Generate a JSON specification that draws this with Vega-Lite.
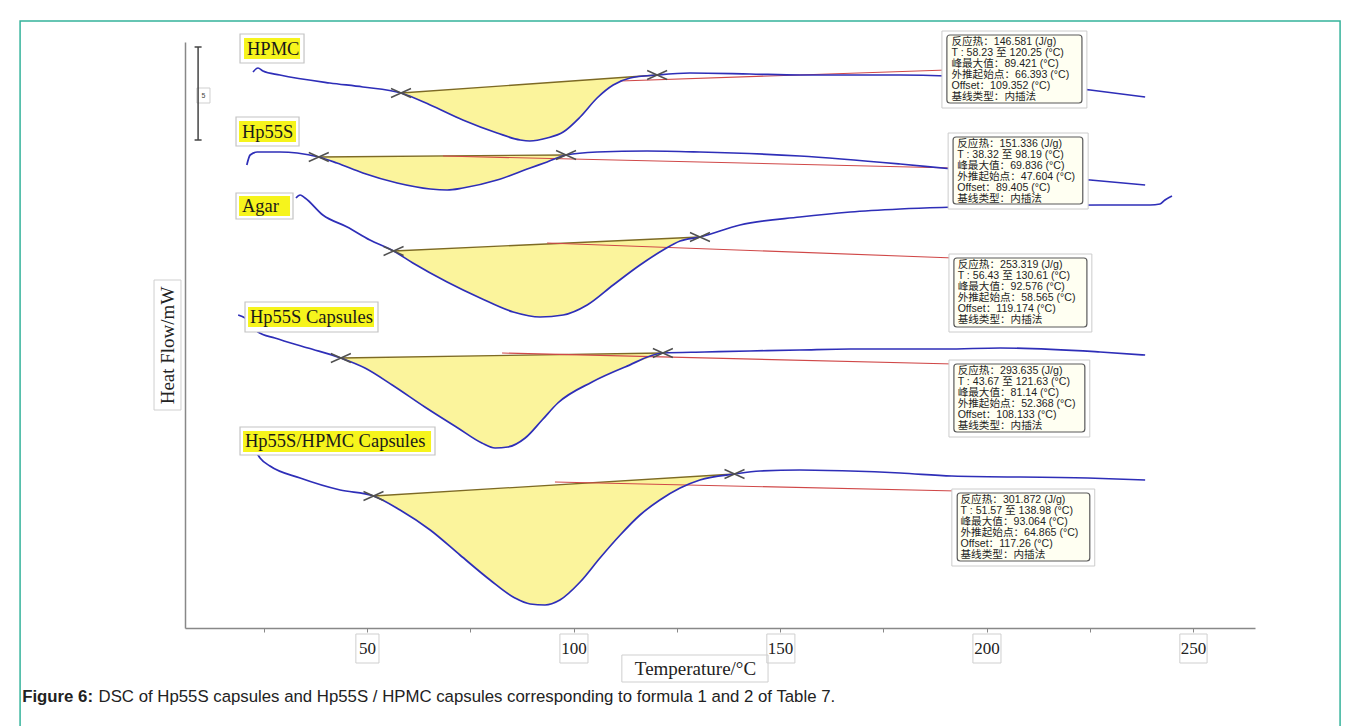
{
  "$schema": "https://vega.github.io/schema/vega-lite/v6.json",
  "width": 1070,
  "height": 586,
  "autosize": {"type": "none"},
  "padding": {"left": 185, "top": 42, "right": 105, "bottom": 98},
  "background": "white",
  "config": {"view": {"stroke": null}},
  "datasets": {
    "curves": [
      {"s": "HPMC", "t": 22.4, "hf": 556}, {"s": "HPMC", "t": 23.6, "hf": 560}, {"s": "HPMC", "t": 24.8, "hf": 557}, {"s": "HPMC", "t": 28.9, "hf": 553}, {"s": "HPMC", "t": 41.0, "hf": 545}, {"s": "HPMC", "t": 49.0, "hf": 541}, {"s": "HPMC", "t": 58.23, "hf": 535}, {"s": "HPMC", "t": 65.3, "hf": 523}, {"s": "HPMC", "t": 73.2, "hf": 508}, {"s": "HPMC", "t": 81.5, "hf": 495}, {"s": "HPMC", "t": 87.1, "hf": 488}, {"s": "HPMC", "t": 89.4, "hf": 487}, {"s": "HPMC", "t": 93.6, "hf": 490}, {"s": "HPMC", "t": 97.5, "hf": 496}, {"s": "HPMC", "t": 101.6, "hf": 511}, {"s": "HPMC", "t": 105.7, "hf": 530}, {"s": "HPMC", "t": 109.6, "hf": 543}, {"s": "HPMC", "t": 113.7, "hf": 550}, {"s": "HPMC", "t": 120.25, "hf": 553}, {"s": "HPMC", "t": 128.2, "hf": 555}, {"s": "HPMC", "t": 142.7, "hf": 554}, {"s": "HPMC", "t": 154.8, "hf": 553}, {"s": "HPMC", "t": 179.1, "hf": 553}, {"s": "HPMC", "t": 190.4, "hf": 552}, {"s": "HPMC", "t": 225.1, "hf": 538}, {"s": "HPMC", "t": 238.4, "hf": 531},
      {"s": "Hp55S", "t": 20.9, "hf": 463}, {"s": "Hp55S", "t": 21.7, "hf": 473}, {"s": "Hp55S", "t": 23.4, "hf": 476}, {"s": "Hp55S", "t": 28.9, "hf": 476}, {"s": "Hp55S", "t": 33.1, "hf": 475}, {"s": "Hp55S", "t": 38.32, "hf": 471}, {"s": "Hp55S", "t": 42.7, "hf": 465}, {"s": "Hp55S", "t": 49.0, "hf": 455}, {"s": "Hp55S", "t": 57.3, "hf": 445}, {"s": "Hp55S", "t": 65.3, "hf": 439}, {"s": "Hp55S", "t": 69.4, "hf": 438}, {"s": "Hp55S", "t": 73.2, "hf": 440}, {"s": "Hp55S", "t": 81.5, "hf": 448}, {"s": "Hp55S", "t": 89.5, "hf": 460}, {"s": "Hp55S", "t": 93.6, "hf": 466}, {"s": "Hp55S", "t": 98.19, "hf": 473}, {"s": "Hp55S", "t": 105.7, "hf": 476}, {"s": "Hp55S", "t": 117.8, "hf": 477}, {"s": "Hp55S", "t": 130.6, "hf": 476}, {"s": "Hp55S", "t": 154.8, "hf": 472}, {"s": "Hp55S", "t": 179.1, "hf": 464}, {"s": "Hp55S", "t": 191.9, "hf": 459}, {"s": "Hp55S", "t": 225.1, "hf": 448}, {"s": "Hp55S", "t": 238.4, "hf": 443},
      {"s": "Agar", "t": 32.8, "hf": 430}, {"s": "Agar", "t": 33.8, "hf": 433}, {"s": "Agar", "t": 35.0, "hf": 430}, {"s": "Agar", "t": 39.3, "hf": 413}, {"s": "Agar", "t": 45.2, "hf": 401}, {"s": "Agar", "t": 50.7, "hf": 388}, {"s": "Agar", "t": 56.43, "hf": 377}, {"s": "Agar", "t": 61.1, "hf": 365}, {"s": "Agar", "t": 69.4, "hf": 346}, {"s": "Agar", "t": 77.4, "hf": 330}, {"s": "Agar", "t": 85.4, "hf": 316}, {"s": "Agar", "t": 91.9, "hf": 311}, {"s": "Agar", "t": 97.5, "hf": 313}, {"s": "Agar", "t": 103.3, "hf": 323}, {"s": "Agar", "t": 109.6, "hf": 343}, {"s": "Agar", "t": 116.1, "hf": 363}, {"s": "Agar", "t": 121.7, "hf": 378}, {"s": "Agar", "t": 125.8, "hf": 387}, {"s": "Agar", "t": 130.61, "hf": 391}, {"s": "Agar", "t": 140.3, "hf": 403}, {"s": "Agar", "t": 154.8, "hf": 411}, {"s": "Agar", "t": 167.0, "hf": 416}, {"s": "Agar", "t": 179.1, "hf": 419}, {"s": "Agar", "t": 203.3, "hf": 422}, {"s": "Agar", "t": 227.5, "hf": 423}, {"s": "Agar", "t": 239.6, "hf": 423}, {"s": "Agar", "t": 242.0, "hf": 424}, {"s": "Agar", "t": 243.2, "hf": 428}, {"s": "Agar", "t": 244.9, "hf": 432},
      {"s": "Cap", "t": 18.8, "hf": 313}, {"s": "Cap", "t": 20.5, "hf": 310}, {"s": "Cap", "t": 23.6, "hf": 296}, {"s": "Cap", "t": 27.7, "hf": 290}, {"s": "Cap", "t": 35.7, "hf": 280}, {"s": "Cap", "t": 43.67, "hf": 270}, {"s": "Cap", "t": 49.5, "hf": 260}, {"s": "Cap", "t": 56.1, "hf": 243}, {"s": "Cap", "t": 64.0, "hf": 221}, {"s": "Cap", "t": 72.0, "hf": 200}, {"s": "Cap", "t": 77.8, "hf": 185}, {"s": "Cap", "t": 81.0, "hf": 180}, {"s": "Cap", "t": 84.1, "hf": 181}, {"s": "Cap", "t": 88.3, "hf": 190}, {"s": "Cap", "t": 92.4, "hf": 208}, {"s": "Cap", "t": 96.2, "hf": 225}, {"s": "Cap", "t": 104.5, "hf": 246}, {"s": "Cap", "t": 112.5, "hf": 261}, {"s": "Cap", "t": 121.63, "hf": 275}, {"s": "Cap", "t": 131.8, "hf": 276}, {"s": "Cap", "t": 142.7, "hf": 277}, {"s": "Cap", "t": 154.8, "hf": 278}, {"s": "Cap", "t": 167.0, "hf": 279}, {"s": "Cap", "t": 179.1, "hf": 279}, {"s": "Cap", "t": 190.0, "hf": 279}, {"s": "Cap", "t": 203.3, "hf": 280}, {"s": "Cap", "t": 227.5, "hf": 276}, {"s": "Cap", "t": 238.4, "hf": 273},
      {"s": "MixCap", "t": 22.9, "hf": 178}, {"s": "MixCap", "t": 24.1, "hf": 170}, {"s": "MixCap", "t": 26.5, "hf": 162}, {"s": "MixCap", "t": 33.8, "hf": 150}, {"s": "MixCap", "t": 43.5, "hf": 138}, {"s": "MixCap", "t": 51.57, "hf": 132}, {"s": "MixCap", "t": 58.0, "hf": 118}, {"s": "MixCap", "t": 65.3, "hf": 98}, {"s": "MixCap", "t": 72.5, "hf": 73}, {"s": "MixCap", "t": 79.8, "hf": 48}, {"s": "MixCap", "t": 85.8, "hf": 30}, {"s": "MixCap", "t": 89.5, "hf": 24}, {"s": "MixCap", "t": 93.1, "hf": 23}, {"s": "MixCap", "t": 96.7, "hf": 28}, {"s": "MixCap", "t": 101.6, "hf": 46}, {"s": "MixCap", "t": 106.4, "hf": 70}, {"s": "MixCap", "t": 111.3, "hf": 93}, {"s": "MixCap", "t": 116.1, "hf": 113}, {"s": "MixCap", "t": 120.9, "hf": 128}, {"s": "MixCap", "t": 125.8, "hf": 140}, {"s": "MixCap", "t": 130.6, "hf": 148}, {"s": "MixCap", "t": 138.98, "hf": 154}, {"s": "MixCap", "t": 145.2, "hf": 157}, {"s": "MixCap", "t": 154.8, "hf": 158}, {"s": "MixCap", "t": 167.0, "hf": 157}, {"s": "MixCap", "t": 179.1, "hf": 155}, {"s": "MixCap", "t": 191.6, "hf": 152}, {"s": "MixCap", "t": 224.5, "hf": 150}, {"s": "MixCap", "t": 238.4, "hf": 148}
    ],
    "fills": [
      {"s": "HPMC", "t": 58.23, "hf": 535, "base": 535}, {"s": "HPMC", "t": 65.3, "hf": 523, "base": 537.1}, {"s": "HPMC", "t": 73.2, "hf": 508, "base": 539.3}, {"s": "HPMC", "t": 81.5, "hf": 495, "base": 541.8}, {"s": "HPMC", "t": 87.1, "hf": 488, "base": 543.4}, {"s": "HPMC", "t": 89.4, "hf": 487, "base": 544.0}, {"s": "HPMC", "t": 93.6, "hf": 490, "base": 545.3}, {"s": "HPMC", "t": 97.5, "hf": 496, "base": 546.4}, {"s": "HPMC", "t": 101.6, "hf": 511, "base": 547.6}, {"s": "HPMC", "t": 105.7, "hf": 530, "base": 548.8}, {"s": "HPMC", "t": 109.6, "hf": 543, "base": 549.9}, {"s": "HPMC", "t": 113.7, "hf": 550, "base": 551.1}, {"s": "HPMC", "t": 120.25, "hf": 553, "base": 553},
      {"s": "Hp55S", "t": 38.32, "hf": 471, "base": 471}, {"s": "Hp55S", "t": 42.7, "hf": 465, "base": 471.1}, {"s": "Hp55S", "t": 49.0, "hf": 455, "base": 471.4}, {"s": "Hp55S", "t": 57.3, "hf": 445, "base": 471.6}, {"s": "Hp55S", "t": 65.3, "hf": 439, "base": 471.9}, {"s": "Hp55S", "t": 69.4, "hf": 438, "base": 472.0}, {"s": "Hp55S", "t": 73.2, "hf": 440, "base": 472.2}, {"s": "Hp55S", "t": 81.5, "hf": 448, "base": 472.4}, {"s": "Hp55S", "t": 89.5, "hf": 460, "base": 472.7}, {"s": "Hp55S", "t": 93.6, "hf": 466, "base": 472.8}, {"s": "Hp55S", "t": 98.19, "hf": 473, "base": 473},
      {"s": "Agar", "t": 56.43, "hf": 377, "base": 377}, {"s": "Agar", "t": 61.1, "hf": 365, "base": 377.9}, {"s": "Agar", "t": 69.4, "hf": 346, "base": 379.4}, {"s": "Agar", "t": 77.4, "hf": 330, "base": 381.0}, {"s": "Agar", "t": 85.4, "hf": 316, "base": 382.5}, {"s": "Agar", "t": 91.9, "hf": 311, "base": 383.7}, {"s": "Agar", "t": 97.5, "hf": 313, "base": 384.7}, {"s": "Agar", "t": 103.3, "hf": 323, "base": 385.8}, {"s": "Agar", "t": 109.6, "hf": 343, "base": 387.0}, {"s": "Agar", "t": 116.1, "hf": 363, "base": 388.3}, {"s": "Agar", "t": 121.7, "hf": 378, "base": 389.3}, {"s": "Agar", "t": 125.8, "hf": 387, "base": 390.1}, {"s": "Agar", "t": 130.61, "hf": 391, "base": 391},
      {"s": "Cap", "t": 43.67, "hf": 270, "base": 270}, {"s": "Cap", "t": 49.5, "hf": 260, "base": 270.4}, {"s": "Cap", "t": 56.1, "hf": 243, "base": 270.8}, {"s": "Cap", "t": 64.0, "hf": 221, "base": 271.3}, {"s": "Cap", "t": 72.0, "hf": 200, "base": 271.8}, {"s": "Cap", "t": 77.8, "hf": 185, "base": 272.2}, {"s": "Cap", "t": 81.0, "hf": 180, "base": 272.4}, {"s": "Cap", "t": 84.1, "hf": 181, "base": 272.6}, {"s": "Cap", "t": 88.3, "hf": 190, "base": 272.9}, {"s": "Cap", "t": 92.4, "hf": 208, "base": 273.1}, {"s": "Cap", "t": 96.2, "hf": 225, "base": 273.4}, {"s": "Cap", "t": 104.5, "hf": 246, "base": 273.9}, {"s": "Cap", "t": 112.5, "hf": 261, "base": 274.4}, {"s": "Cap", "t": 121.63, "hf": 275, "base": 275},
      {"s": "MixCap", "t": 51.57, "hf": 132, "base": 132}, {"s": "MixCap", "t": 58.0, "hf": 118, "base": 133.6}, {"s": "MixCap", "t": 65.3, "hf": 98, "base": 135.5}, {"s": "MixCap", "t": 72.5, "hf": 73, "base": 137.3}, {"s": "MixCap", "t": 79.8, "hf": 48, "base": 139.1}, {"s": "MixCap", "t": 85.8, "hf": 30, "base": 140.6}, {"s": "MixCap", "t": 89.5, "hf": 24, "base": 141.5}, {"s": "MixCap", "t": 93.1, "hf": 23, "base": 142.5}, {"s": "MixCap", "t": 96.7, "hf": 28, "base": 143.4}, {"s": "MixCap", "t": 101.6, "hf": 46, "base": 144.6}, {"s": "MixCap", "t": 106.4, "hf": 70, "base": 145.8}, {"s": "MixCap", "t": 111.3, "hf": 93, "base": 147.0}, {"s": "MixCap", "t": 116.1, "hf": 113, "base": 148.2}, {"s": "MixCap", "t": 120.9, "hf": 128, "base": 149.5}, {"s": "MixCap", "t": 125.8, "hf": 140, "base": 150.7}, {"s": "MixCap", "t": 130.6, "hf": 148, "base": 151.9}, {"s": "MixCap", "t": 138.98, "hf": 154, "base": 154}
    ],
    "limits": [
      {"s": "HPMC", "t": 58.23, "hf": 535}, {"s": "HPMC", "t": 120.25, "hf": 553},
      {"s": "Hp55S", "t": 38.32, "hf": 471}, {"s": "Hp55S", "t": 98.19, "hf": 473},
      {"s": "Agar", "t": 56.43, "hf": 377}, {"s": "Agar", "t": 130.61, "hf": 391},
      {"s": "Cap", "t": 43.67, "hf": 270}, {"s": "Cap", "t": 121.63, "hf": 275},
      {"s": "MixCap", "t": 51.57, "hf": 132}, {"s": "MixCap", "t": 138.98, "hf": 154}
    ],
    "reds": [
      {"s": "HPMC", "t": 111.3, "hf": 547}, {"s": "HPMC", "t": 190.4, "hf": 558},
      {"s": "Hp55S", "t": 68.4, "hf": 472}, {"s": "Hp55S", "t": 191.9, "hf": 460},
      {"s": "Agar", "t": 93.6, "hf": 385}, {"s": "Agar", "t": 192.1, "hf": 370},
      {"s": "Cap", "t": 82.7, "hf": 275}, {"s": "Cap", "t": 192.1, "hf": 264},
      {"s": "MixCap", "t": 95.5, "hf": 146}, {"s": "MixCap", "t": 192.9, "hf": 137}
    ],
    "labelFrames": [
      {"t": 19.25, "t2": 34.75, "hf": 594, "hf2": 565},
      {"t": 18.28, "t2": 33.54, "hf": 511, "hf2": 482},
      {"t": 18.28, "t2": 32.08, "hf": 435, "hf2": 409},
      {"t": 20.46, "t2": 52.66, "hf": 326, "hf2": 296},
      {"t": 19.25, "t2": 66.46, "hf": 201, "hf2": 173}
    ],
    "highlights": [
      {"t": 20.22, "t2": 33.78, "hf": 590, "hf2": 569},
      {"t": 19.01, "t2": 32.81, "hf": 507, "hf2": 486},
      {"t": 19.01, "t2": 31.36, "hf": 432, "hf2": 412},
      {"t": 21.19, "t2": 51.69, "hf": 321, "hf2": 301},
      {"t": 19.98, "t2": 65.5, "hf": 197, "hf2": 176}
    ],
    "labels": [
      {"name": "HPMC", "t": 20.94, "hf": 579.5},
      {"name": "Hp55S", "t": 19.73, "hf": 496.5},
      {"name": "Agar", "t": 19.73, "hf": 422},
      {"name": "Hp55S Capsules", "t": 21.67, "hf": 311},
      {"name": "Hp55S/HPMC Capsules", "t": 20.46, "hf": 187}
    ],
    "infoOuter": [
      {"t": 189.2, "t2": 224.3, "hf": 597, "hf2": 520},
      {"t": 190.7, "t2": 224.6, "hf": 495, "hf2": 419},
      {"t": 190.9, "t2": 225.5, "hf": 374, "hf2": 296},
      {"t": 190.9, "t2": 225.0, "hf": 268, "hf2": 191},
      {"t": 191.6, "t2": 226.2, "hf": 139, "hf2": 62}
    ],
    "infoInner": [
      {"t": 190.4, "t2": 223.1, "hf": 593, "hf2": 525},
      {"t": 191.9, "t2": 223.3, "hf": 491, "hf2": 424},
      {"t": 192.1, "t2": 224.3, "hf": 370, "hf2": 301},
      {"t": 192.1, "t2": 223.8, "hf": 264, "hf2": 196},
      {"t": 192.9, "t2": 225.0, "hf": 135, "hf2": 67}
    ],
    "infoText": [
      {"t": 191.5, "hf": 591, "txt": "反应热：146.581 (J/g)\nT : 58.23 至 120.25 (°C)\n峰最大值：89.421 (°C)\n外推起始点：66.393 (°C)\nOffset：109.352 (°C)\n基线类型：内插法"},
      {"t": 192.9, "hf": 489, "txt": "反应热：151.336 (J/g)\nT : 38.32 至 98.19 (°C)\n峰最大值：69.836 (°C)\n外推起始点：47.604 (°C)\nOffset：89.405 (°C)\n基线类型：内插法"},
      {"t": 193.0, "hf": 368, "txt": "反应热：253.319 (J/g)\nT : 56.43 至 130.61 (°C)\n峰最大值：92.576 (°C)\n外推起始点：58.565 (°C)\nOffset：119.174 (°C)\n基线类型：内插法"},
      {"t": 193.0, "hf": 262, "txt": "反应热：293.635 (J/g)\nT : 43.67 至 121.63 (°C)\n峰最大值：81.14 (°C)\n外推起始点：52.368 (°C)\nOffset：108.133 (°C)\n基线类型：内插法"},
      {"t": 193.7, "hf": 133, "txt": "反应热：301.872 (J/g)\nT : 51.57 至 138.98 (°C)\n峰最大值：93.064 (°C)\n外推起始点：64.865 (°C)\nOffset：117.26 (°C)\n基线类型：内插法"}
    ],
    "axisFrames": [
      {"t": 47.3, "t2": 52.9, "hf": -6, "hf2": -35},
      {"t": 96.7, "t2": 103.5, "hf": -6, "hf2": -35},
      {"t": 146.8, "t2": 153.6, "hf": -6, "hf2": -35},
      {"t": 196.7, "t2": 203.5, "hf": -6, "hf2": -35},
      {"t": 246.8, "t2": 253.4, "hf": -6, "hf2": -35},
      {"t": 111.7, "t2": 147.1, "hf": -27, "hf2": -54},
      {"t": -1.57, "t2": 4.96, "hf": 348, "hf2": 218},
      {"t": 8.8, "t2": 11.98, "hf": 540, "hf2": 525}
    ],
    "scaleBar": [
      {"t": 9.1, "hf": 581}, {"t": 9.1, "hf": 488}
    ],
    "border": [
      {"t": -34.0, "t2": 285.6, "hf": 607, "hf2": -112}
    ]
  },
  "encoding": {
    "x": {
      "field": "t", "type": "quantitative",
      "scale": {"domain": [5.93, 265], "nice": false, "zero": false},
      "axis": {
        "title": "Temperature/°C",
        "values": [25, 50, 75, 100, 125, 150, 175, 200, 225, 250],
        "labelExpr": "datum.value % 50 === 0 ? datum.label : ''",
        "grid": false,
        "labelFont": "Liberation Serif", "labelFontSize": 17, "labelColor": "#222",
        "labelPadding": 8,
        "tickColor": "#888", "tickSize": 4,
        "domainColor": "#888", "domainWidth": 1.5,
        "titleFont": "Liberation Serif", "titleFontSize": 19, "titleFontWeight": "normal", "titleColor": "#222",
        "titleX": 510, "titleY": 40, "titleBaseline": "middle", "titleAlign": "center"
      }
    },
    "y": {
      "field": "hf", "type": "quantitative",
      "scale": {"domain": [0, 586], "nice": false, "zero": false},
      "axis": {
        "title": "Heat Flow/mW",
        "labels": false, "ticks": false, "grid": false,
        "domainColor": "#888", "domainWidth": 1.5,
        "titleFont": "Liberation Serif", "titleFontSize": 19, "titleFontWeight": "normal", "titleColor": "#222",
        "titleAngle": -90, "titleX": -18, "titleY": 303, "titleBaseline": "middle", "titleAlign": "center"
      }
    }
  },
  "layer": [
    {"data": {"name": "border"}, "mark": {"type": "rect", "fill": null, "stroke": "#35b39b", "strokeWidth": 1.5}, "encoding": {"x2": {"field": "t2"}, "y2": {"field": "hf2"}}},
    {"data": {"name": "axisFrames"}, "mark": {"type": "rect", "fill": null, "stroke": "#cfcfcf", "strokeWidth": 1}, "encoding": {"x2": {"field": "t2"}, "y2": {"field": "hf2"}}},
    {"data": {"name": "fills"}, "mark": {"type": "area", "color": "#fbf49c", "interpolate": "monotone"}, "encoding": {"y2": {"field": "base"}, "detail": {"field": "s"}}},
    {"data": {"name": "limits"}, "mark": {"type": "line", "color": "#7d6a25", "strokeWidth": 1.3}, "encoding": {"detail": {"field": "s"}}},
    {"data": {"name": "reds"}, "mark": {"type": "line", "color": "#d04848", "strokeWidth": 1.1}, "encoding": {"detail": {"field": "s"}}},
    {"data": {"name": "curves"}, "mark": {"type": "line", "color": "#2e2eb8", "strokeWidth": 1.7, "interpolate": "monotone"}, "encoding": {"detail": {"field": "s"}}},
    {"data": {"name": "limits"}, "mark": {"type": "point", "shape": "M-1,-0.45L1,0.45M-1,0.45L1,-0.45", "size": 400, "stroke": "#505050", "strokeWidth": 1.4, "filled": false, "opacity": 1}},
    {"data": {"name": "scaleBar"}, "mark": {"type": "line", "color": "#444", "strokeWidth": 1.5}, "encoding": {}},
    {"data": {"name": "scaleBar"}, "mark": {"type": "point", "shape": "M-1,0L1,0", "size": 49, "stroke": "#444", "strokeWidth": 1.5, "filled": false, "opacity": 1}},
    {"data": {"values": [{"t": 10.4, "hf": 532.5, "txt": "5"}]}, "mark": {"type": "text", "font": "Liberation Sans", "fontSize": 7, "color": "#444", "align": "center", "baseline": "middle"}, "encoding": {"text": {"field": "txt"}}},
    {"data": {"name": "labelFrames"}, "mark": {"type": "rect", "fill": "white", "stroke": "#c4c4c4", "strokeWidth": 1.2}, "encoding": {"x2": {"field": "t2"}, "y2": {"field": "hf2"}}},
    {"data": {"name": "highlights"}, "mark": {"type": "rect", "fill": "#f6f41c"}, "encoding": {"x2": {"field": "t2"}, "y2": {"field": "hf2"}}},
    {"data": {"name": "labels"}, "mark": {"type": "text", "font": "Liberation Serif", "fontSize": 18.5, "color": "#1a1a1a", "align": "left", "baseline": "middle"}, "encoding": {"text": {"field": "name"}}},
    {"data": {"name": "infoOuter"}, "mark": {"type": "rect", "fill": "white", "stroke": "#cccccc", "strokeWidth": 1}, "encoding": {"x2": {"field": "t2"}, "y2": {"field": "hf2"}}},
    {"data": {"name": "infoInner"}, "mark": {"type": "rect", "fill": "#fffff2", "stroke": "#5a5a5a", "strokeWidth": 1.2, "cornerRadius": 3}, "encoding": {"x2": {"field": "t2"}, "y2": {"field": "hf2"}}},
    {"data": {"name": "infoText"}, "mark": {"type": "text", "font": "Liberation Sans, Noto Sans CJK SC", "fontSize": 10.6, "lineHeight": 11, "lineBreak": "\n", "color": "#1e1e1e", "align": "left", "baseline": "top"}, "encoding": {"text": {"field": "txt"}}},
    {"data": {"values": [{"t": -33.5, "hf": -69, "txt": "Figure 6:"}]}, "mark": {"type": "text", "font": "Liberation Sans", "fontSize": 16.8, "fontWeight": "bold", "color": "#222", "align": "left", "baseline": "middle"}, "encoding": {"text": {"field": "txt"}}},
    {"data": {"values": [{"t": -15.0, "hf": -69, "txt": "DSC of Hp55S capsules and Hp55S / HPMC capsules corresponding to formula 1 and 2 of Table 7."}]}, "mark": {"type": "text", "font": "Liberation Sans", "fontSize": 16.8, "color": "#222", "align": "left", "baseline": "middle"}, "encoding": {"text": {"field": "txt"}}}
  ]
}
